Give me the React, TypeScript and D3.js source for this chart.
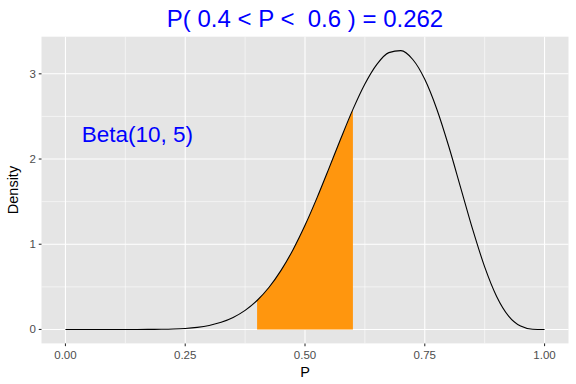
import React from "react";
import * as d3 from "d3";

// Beta(10, 5) density, sampled at P = 0, 0.025, ..., 1
const pValues = [
  0, 0.025, 0.05, 0.075, 0.1, 0.125, 0.15, 0.175, 0.2, 0.225, 0.25, 0.275, 0.3, 0.325,
  0.35, 0.375, 0.4, 0.425, 0.45, 0.475, 0.5, 0.525, 0.55, 0.575, 0.6, 0.625, 0.65, 0.675,
  0.7, 0.725, 0.75, 0.775, 0.8, 0.825, 0.85, 0.875, 0.9, 0.925, 0.95, 0.975, 1,
];
const densityValues = [
  0, 0.0, 0.0, 0.0000006, 0.0000066, 0.0000437, 0.000201, 0.000714, 0.0021, 0.00534,
  0.01208, 0.02488, 0.04731, 0.08406, 0.14083, 0.22399, 0.34007, 0.495, 0.6931, 0.93608,
  1.22192, 1.54399, 1.89038, 2.24388, 2.58247, 2.88058, 3.11119, 3.24864, 3.27191, 3.16816,
  2.93593, 2.58749, 2.14963, 1.66216, 1.17373, 0.73476, 0.38781, 0.15702, 0.03943, 0.00311, 0,
];
const shadeFrom = 0.4;
const shadeTo = 0.6;
const xTicks = [0, 0.25, 0.5, 0.75, 1];
const xTickLabels = ["0.00", "0.25", "0.50", "0.75", "1.00"];
const xMinor = [0.125, 0.375, 0.625, 0.875];
const yTicks = [0, 1, 2, 3];
const yTickLabels = ["0", "1", "2", "3"];
const yMinor = [0.5, 1.5, 2.5];
const titleText = "P( 0.4 < P <  0.6 ) = 0.262";
const annotationText = "Beta(10, 5)";
const annotationAt = [0.15, 2.25];

const W = 576;
const H = 384;
const panel = { left: 41.5, right: 568.5, top: 36.7, bottom: 343.4 };
const FONT = "'Liberation Sans', Arial, Helvetica, sans-serif";

export default function App() {
  const pts = pValues.map((p, i) => ({ p, d: densityValues[i] }));
  const xExt = [0, 1];
  const yMax = d3.max(densityValues) as number;
  const xPad = (xExt[1] - xExt[0]) * 0.05;
  const yPad = yMax * 0.05;
  const x = d3
    .scaleLinear()
    .domain([xExt[0] - xPad, xExt[1] + xPad])
    .range([panel.left, panel.right]);
  const y = d3
    .scaleLinear()
    .domain([0 - yPad, yMax + yPad])
    .range([panel.bottom, panel.top]);

  const line = d3
    .line<{ p: number; d: number }>()
    .x((v) => x(v.p))
    .y((v) => y(v.d))
    .curve(d3.curveMonotoneX);
  const area = d3
    .area<{ p: number; d: number }>()
    .x((v) => x(v.p))
    .y0(() => y(0))
    .y1((v) => y(v.d))
    .curve(d3.curveMonotoneX);
  const shaded = pts.filter((v) => v.p >= shadeFrom - 1e-9 && v.p <= shadeTo + 1e-9);

  return (
    <svg
      width={W}
      height={H}
      style={{ position: "absolute", left: 0, top: 0, background: "#fff" }}
      fontFamily={FONT}
    >
      <rect
        x={panel.left}
        y={panel.top}
        width={panel.right - panel.left}
        height={panel.bottom - panel.top}
        fill="#E5E5E5"
      />
      {xMinor.map((t) => (
        <line key={"xm" + t} x1={x(t)} x2={x(t)} y1={panel.top} y2={panel.bottom} stroke="#fff" strokeWidth={0.55} />
      ))}
      {yMinor.map((t) => (
        <line key={"ym" + t} x1={panel.left} x2={panel.right} y1={y(t)} y2={y(t)} stroke="#fff" strokeWidth={0.55} />
      ))}
      {xTicks.map((t) => (
        <line key={"xg" + t} x1={x(t)} x2={x(t)} y1={panel.top} y2={panel.bottom} stroke="#fff" strokeWidth={1.1} />
      ))}
      {yTicks.map((t) => (
        <line key={"yg" + t} x1={panel.left} x2={panel.right} y1={y(t)} y2={y(t)} stroke="#fff" strokeWidth={1.1} />
      ))}
      <path d={area(shaded) || ""} fill="#FF960E" />
      <path d={line(pts) || ""} fill="none" stroke="#000" strokeWidth={1.1} />
      <text
        x={x(annotationAt[0])}
        y={y(annotationAt[1])}
        dy="0.21em"
        textAnchor="middle"
        fill="#0000FF"
        fontSize={22.5}
      >
        {annotationText}
      </text>
      {xTicks.map((t, i) => (
        <g key={"xt" + t}>
          <line x1={x(t)} x2={x(t)} y1={panel.bottom} y2={panel.bottom + 2.75} stroke="#333" strokeWidth={1.1} />
          <text x={x(t)} y={panel.bottom + 15.3} textAnchor="middle" fill="#4D4D4D" fontSize={11.5}>
            {xTickLabels[i]}
          </text>
        </g>
      ))}
      {yTicks.map((t, i) => (
        <g key={"yt" + t}>
          <line x1={panel.left - 2.75} x2={panel.left} y1={y(t)} y2={y(t)} stroke="#333" strokeWidth={1.1} />
          <text x={panel.left - 5.5} y={y(t)} dy="0.35em" textAnchor="end" fill="#4D4D4D" fontSize={11.5}>
            {yTickLabels[i]}
          </text>
        </g>
      ))}
      <text x={(panel.left + panel.right) / 2} y={377} textAnchor="middle" fill="#000" fontSize={14.5}>
        P
      </text>
      <text
        transform={`translate(18,${(panel.top + panel.bottom) / 2}) rotate(-90)`}
        textAnchor="middle"
        fill="#000"
        fontSize={14.5}
      >
        Density
      </text>
      <text
        x={(panel.left + panel.right) / 2}
        y={26.5}
        textAnchor="middle"
        fill="#0000FF"
        fontSize={24}
        style={{ whiteSpace: "pre" }}
        xmlSpace="preserve"
      >
        {titleText}
      </text>
    </svg>
  );
}
